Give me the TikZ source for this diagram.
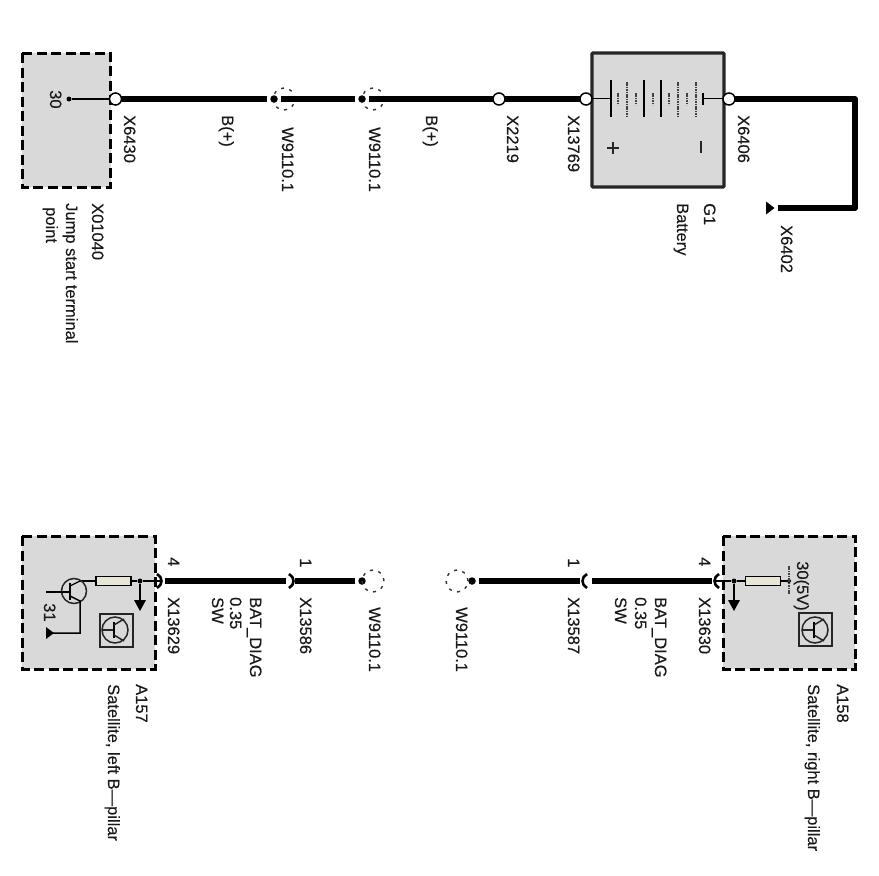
\documentclass[tikz,border=0pt]{standalone}
\usepackage{fontspec}
\setmainfont{Liberation Sans}
\newfontfamily\lblfont{Liberation Sans}[FakeBold=0.2]
\begin{document}
\begin{tikzpicture}[x=1pt,y=-1pt,
  lbl/.style={rotate=-90,anchor=base west,inner sep=0pt,font=\lblfont\fontsize{16.5}{18}\selectfont,text=black!90},
  modbox/.style={fill=boxgray,draw=black,line width=3pt,dash pattern=on 10pt off 4.5pt},
  battbox/.style={fill=boxgray,draw=black!85,line width=3.2pt,rounded corners=1pt},
  wire/.style={draw=black,line width=6pt},
  thin wire/.style={draw=black,line width=1.2pt},
  ring/.style={circle,draw=black,fill=white,line width=1.5pt,minimum size=12pt,inner sep=0pt,outer sep=0pt},
  soliddot/.style={circle,fill=black,minimum size=7.5pt,inner sep=0pt,outer sep=0pt},
  smalldot/.style={circle,fill=black,minimum size=5pt,inner sep=0pt},
  ghost/.style={circle,draw=black!80,line width=1.4pt,dash pattern=on 3pt off 5.6pt,minimum size=22pt,inner sep=0pt},
  res/.style={draw=black,line width=1.3pt,fill=resfill,minimum width=35pt,minimum height=9pt,inner sep=0pt,outer sep=0pt},
  chev/.style={draw=black,line width=2.6pt},
  tall/.style={draw=black,line width=1.7pt},
  blur/.style={draw=black!75,line width=2.8pt,dash pattern=on 1.6pt off .8pt},
  gnd/.style={fill=black,draw=none},
  icon/.style={draw=black!85,line width=1.5pt},
  gap/.style={shorten >=3pt},
  gapstart/.style={shorten <=3pt}
 ]
\definecolor{boxgray}{HTML}{D9D9D9}
\definecolor{resfill}{HTML}{E8E6D6}
\useasboundingbox (0,0) rectangle (879,876);
\fill[white] (0,0) rectangle (879,876);

% ---------- Boxes
\draw[modbox] (22,53) rectangle (110.5,187);
\draw[battbox] (592,53) rectangle (724,187);
\draw[modbox] (22,536) rectangle (155,669);
\draw[modbox] (723,536) rectangle (855,669);

% ---------- Top row
\node[ghost] (g1) at (284,99) {};
\node[ghost] (g2) at (373,99) {};
\node[soliddot] (d1) at (274,99) {};
\node[soliddot] (d2) at (362,99) {};
\node[ring] (x6430) at (115.5,99) {};
\node[ring] (x2219) at (499,99) {};
\node[ring] (x13769) at (586,99) {};
\node[ring] (x6406) at (729,99) {};
\node[smalldot] (t30) at (69,99) {};
\coordinate (c1) at (855,99);
\coordinate (c2) at (855,208);
\coordinate (x6402) at (778,208);
\draw[thin wire] (t30) -- (x6430);
\draw[wire,gap] (x6430) -- (d1);
\draw[wire,gap,gapstart] (d1) -- (d2);
\draw[wire,gapstart] (d2) -- (x2219);
\draw[wire] (x2219) -- (x13769);
\draw[wire,line join=round] (x6406) -- (c1) -- (c2) -- (x6402);
\fill[gnd] (766,201.5) -- (766,214.5) -- (774.5,208) -- cycle;

% ---------- Battery symbol
\draw[thin wire] (592,98.5) -- (611,98.5);
\draw[thin wire] (703,98.5) -- (724,98.5);
\foreach \x in {611,644,661} \draw[tall] (\x,80) -- (\x,117);
\foreach \x in {627,678,696} \draw[blur] (\x,82) -- (\x,116);
\foreach \x in {618,636,653,669,687} \draw[blur] (\x,93) -- (\x,105);
\draw[tall] (703,93) -- (703,105);
\draw[line width=1.7pt,black!85] (607,148) -- (619,148) (613,142) -- (613,154);
\draw[line width=2.2pt,black!85] (701,141) -- (701,153);

% ---------- Bottom-left row
\node[soliddot] (d3) at (362,581) {};
\node[ghost] (g3) at (373,581) {};
\coordinate (x13629) at (161,581);
\coordinate (x13586) at (293,581);
\draw[wire] (x13629) ++(4,0) -- (286,581);
\draw[wire,gap] (x13586) ++(2,0) -- (d3);
\draw[chev] (157,574) .. controls (163,577) and (163,585) .. (157,588);
\draw[chev] (289,574) .. controls (295,577) and (295,585) .. (289,588);

% ---------- Satellite left internals
\node[res] (r1) at (113.5,581) {};
\node[smalldot] (j1) at (140,581) {};
\draw[thin wire] (x13629) -- (j1);
\draw[thin wire] (j1) -- (r1);
\draw[thin wire] (r1) -- (80,581);
\draw[thin wire] (j1) -- (140,600);
\fill[gnd] (134,600) -- (146,600) -- (140,611) -- cycle;
\draw[icon] (74,591) circle (12.5);
\draw[thin wire] (46,592) -- (70,592);
\draw[line width=2pt] (70,583) -- (70,600);
\draw[thin wire] (70,586) -- (80,581);
\draw[thin wire,line join=miter,line width=1.5pt] (70,596) -- (80,601) -- (80,633) -- (50,633);
\fill[gnd] (46,627) -- (46,639) -- (54,633) -- cycle;

% ---------- icon left
\draw[icon] (100,614) rectangle (133,647);
\draw[icon] (115,630) circle (13);
\draw[icon] (103,630) -- (114,630);
\draw[line width=1.8pt] (114,622) -- (114,638);
\draw[icon] (114,625) -- (124,619) (114,635) -- (124,641);

% ---------- Bottom-right row
\node[ghost] (g4) at (457,581) {};
\node[soliddot] (d4) at (472,581) {};
\coordinate (x13587) at (583,581);
\coordinate (x13630) at (715,581);
\draw[wire,gapstart] (d4) -- (580,581);
\draw[wire] (592,581) -- (712,581);
\draw[chev] (587,574) .. controls (581,577) and (581,585) .. (587,588);
\draw[chev] (719,574) .. controls (713,577) and (713,585) .. (719,588);

% ---------- Satellite right internals
\node[res] (r2) at (763,581) {};
\node[smalldot] (j2) at (734,581) {};
\node[smalldot,minimum size=4pt] (j3) at (789,581) {};
\draw[thin wire] (x13630) -- (j2);
\draw[thin wire] (j2) -- (r2);
\draw[thin wire] (r2) -- (j3);
\draw[thin wire] (j2) -- (734,600);
\fill[gnd] (728,600) -- (740,600) -- (734,611) -- cycle;
\draw[blur] (789,566) -- (789,594);

% ---------- icon right
\draw[icon] (799,613) rectangle (832,646);
\draw[icon] (815,630) circle (13);
\draw[icon] (802,630) -- (814,630);
\draw[line width=1.8pt] (814,622) -- (814,638);
\draw[icon] (814,625) -- (824,619) (814,635) -- (824,641);

% ---------- Labels: top
\node[lbl] (l30) at (50,90) {30};
\node[lbl] (lx6430) at (124,115) {X6430};
\node[lbl] (lb1) at (222,115) {B(+)};
\node[lbl] (lw1) at (282,127) {W9110.1};
\node[lbl] (lw2) at (369,127) {W9110.1};
\node[lbl] (lb2) at (426,115) {B(+)};
\node[lbl] (lx2219) at (507,115) {X2219};
\node[lbl] (lx13769) at (568,115) {X13769};
\node[lbl] (lx6406) at (738,115) {X6406};
\node[lbl] (lx6402) at (781,225) {X6402};
\node[lbl] (lg1) at (704,203) {G1};
\node[lbl] (lbat) at (677,203) {Battery};
\node[lbl] (lx01040) at (92,203) {X01040};
\node[lbl] (ljump) at (66,203) {Jump start terminal};
\node[lbl] (lpoint) at (46,207) {point};

% ---------- Labels: bottom left
\node[lbl] (l31) at (44,603) {31};
\node[lbl] (l4a) at (168,557) {4};
\node[lbl] (l1a) at (300,558) {1};
\node[lbl] (lx13629) at (168,597) {X13629};
\node[lbl] (lbd1) at (250,597) {BAT\_DIAG};
\node[lbl] (l035a) at (230,597) {0.35};
\node[lbl] (lswa) at (212,597) {SW};
\node[lbl] (lx13586) at (300,597) {X13586};
\node[lbl] (lw3) at (369,607) {W9110.1};
\node[lbl] (la157) at (136,684) {A157};
\node[lbl] (lsl) at (108,684) {Satellite, left B—pillar};

% ---------- Labels: bottom right
\node[lbl] (l1b) at (568,558) {1};
\node[lbl] (l4b) at (699,557) {4};
\node[lbl] (l305) at (797,561) {30(5V)};
\node[lbl] (lw4) at (456,607) {W9110.1};
\node[lbl] (lx13587) at (568,597) {X13587};
\node[lbl] (lbd2) at (655,597) {BAT\_DIAG};
\node[lbl] (l035b) at (635,597) {0.35};
\node[lbl] (lswb) at (615,597) {SW};
\node[lbl] (lx13630) at (699,597) {X13630};
\node[lbl] (la158) at (837,684) {A158};
\node[lbl] (lsr) at (808,684) {Satellite, right B—pillar};
\end{tikzpicture}
\end{document}
